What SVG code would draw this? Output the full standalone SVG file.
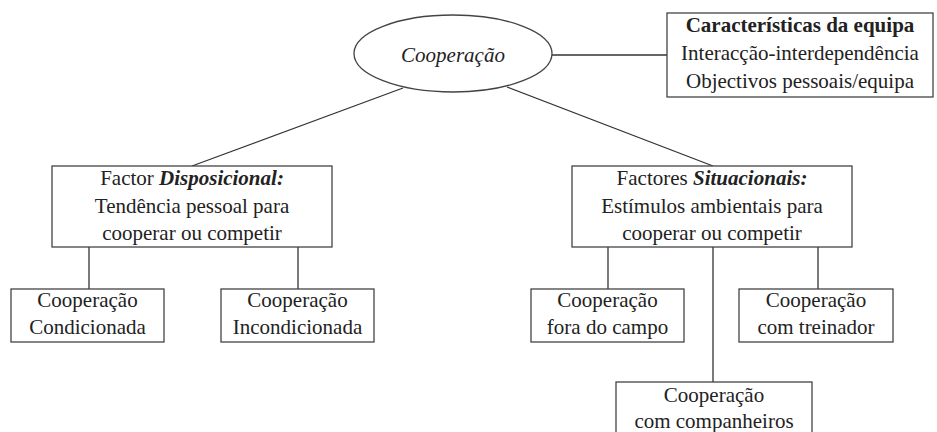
<svg xmlns="http://www.w3.org/2000/svg" width="937" height="432" viewBox="0 0 937 432" font-family="'Liberation Serif', 'Times New Roman', serif">
<style>
text{font-family:'Liberation Serif','Times New Roman',serif;font-size:21px;fill:#222;text-anchor:middle}
.b{fill:#fff;stroke:#444;stroke-width:1.3}
.c{stroke:#333;stroke-width:1.3;fill:none}
</style>
<rect width="937" height="432" fill="#fff"/>
<g id="connectors">
<line class="c" x1="552" y1="55" x2="667" y2="55"/>
<line class="c" x1="403" y1="88" x2="192" y2="166"/>
<line class="c" x1="507" y1="87" x2="713" y2="166"/>
<line class="c" x1="89" y1="247" x2="89" y2="289"/>
<line class="c" x1="298" y1="247" x2="298" y2="289"/>
<line class="c" x1="608" y1="247" x2="608" y2="289"/>
<line class="c" x1="713" y1="247" x2="713" y2="382"/>
<line class="c" x1="818" y1="247" x2="818" y2="289"/>
</g>
<g id="cooperacao">
<ellipse class="b" cx="453" cy="53.5" rx="99" ry="38.5"/>
<text x="453" y="62" font-style="italic">Cooperação</text>
</g>
<g id="caracteristicas">
<rect class="b" x="667" y="13" width="266" height="84"/>
<text x="800" y="32" font-weight="bold">Características da equipa</text>
<text x="800" y="60">Interacção-interdependência</text>
<text x="800" y="88">Objectivos pessoais/equipa</text>
</g>
<g id="disposicional">
<rect class="b" x="52" y="166" width="280" height="81"/>
<text x="192" y="185">Factor <tspan font-weight="bold" font-style="italic">Disposicional:</tspan></text>
<text x="192" y="213">Tendência pessoal para</text>
<text x="192" y="240">cooperar ou competir</text>
</g>
<g id="situacionais">
<rect class="b" x="572" y="166" width="280" height="81"/>
<text x="712" y="185">Factores <tspan font-weight="bold" font-style="italic">Situacionais:</tspan></text>
<text x="712" y="213">Estímulos ambientais para</text>
<text x="712" y="240">cooperar ou competir</text>
</g>
<g id="condicionada">
<rect class="b" x="11" y="289" width="153" height="53"/>
<text x="87.5" y="307">Cooperação</text>
<text x="87.5" y="334">Condicionada</text>
</g>
<g id="incondicionada">
<rect class="b" x="221" y="289" width="153" height="53"/>
<text x="297.5" y="307">Cooperação</text>
<text x="297.5" y="334">Incondicionada</text>
</g>
<g id="fora">
<rect class="b" x="531" y="289" width="153" height="53"/>
<text x="607.5" y="307">Cooperação</text>
<text x="607.5" y="334">fora do campo</text>
</g>
<g id="treinador">
<rect class="b" x="739" y="289" width="154" height="53"/>
<text x="816" y="307">Cooperação</text>
<text x="816" y="334">com treinador</text>
</g>
<g id="companheiros">
<rect class="b" x="616" y="382" width="196" height="60"/>
<text x="714" y="402">Cooperação</text>
<text x="714" y="428">com companheiros</text>
</g>
</svg>
